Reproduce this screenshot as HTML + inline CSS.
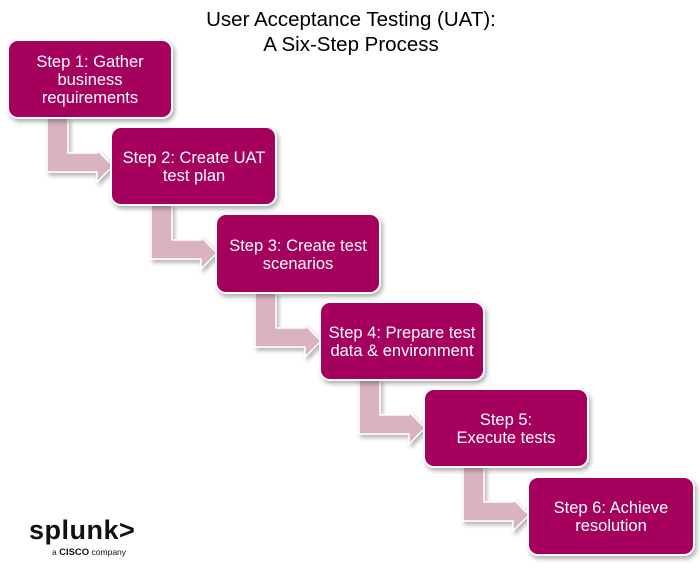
<!DOCTYPE html>
<html><head><style>body{margin:0;background:#fff}svg{display:block}</style></head><body>
<svg width="700" height="571" viewBox="0 0 700 571" xmlns="http://www.w3.org/2000/svg" font-family="Liberation Sans, Arial, sans-serif">
<defs>
<filter id="sh" x="-10%" y="-10%" width="130%" height="130%"><feDropShadow dx="2" dy="3" stdDeviation="2" flood-color="#000" flood-opacity="0.3"/></filter>
</defs>
<text x="351" y="26" font-size="20.5" text-anchor="middle" fill="#000">User Acceptance Testing (UAT):</text>
<text x="351" y="51" font-size="20.5" text-anchor="middle" fill="#000">A Six-Step Process</text>
<g fill="#d9b3c1" stroke="#fff" stroke-width="1.5" filter="url(#sh)">
<path d="M47 118 V172 H97 V182 L113 166 L97 150 V153 H68 V118 Z"/>
<path d="M151 205 V259 H201 V269 L217 253 L201 237 V240 H172 V205 Z"/>
<path d="M255 293 V347 H305 V357 L321 341 L305 325 V328 H276 V293 Z"/>
<path d="M359 380 V434 H409 V444 L425 428 L409 412 V415 H380 V380 Z"/>
<path d="M463 467 V521 H513 V531 L529 515 L513 499 V502 H484 V467 Z"/>
</g>
<g fill="#a6005f" stroke="#fff" stroke-width="2" filter="url(#sh)">
<rect x="8" y="40" width="164" height="78" rx="10"/>
<rect x="111" y="127" width="165" height="78" rx="10"/>
<rect x="216" y="214" width="164" height="79" rx="10"/>
<rect x="320" y="302" width="164" height="78" rx="10"/>
<rect x="424" y="389" width="164" height="78" rx="10"/>
<rect x="528" y="477" width="166" height="78" rx="10"/>
</g>
<g fill="#fff" font-size="16.5" text-anchor="middle">
<text x="90" y="67">Step 1: Gather</text>
<text x="90" y="85">business</text>
<text x="90" y="103">requirements</text>
<text x="194" y="163">Step 2: Create UAT</text>
<text x="194" y="181">test plan</text>
<text x="298" y="251">Step 3: Create test</text>
<text x="298" y="269">scenarios</text>
<text x="402" y="338">Step 4: Prepare test</text>
<text x="402" y="356">data &amp; environment</text>
<text x="506" y="425">Step 5:</text>
<text x="506" y="443">Execute tests</text>
<text x="611" y="513">Step 6: Achieve</text>
<text x="611" y="531">resolution</text>
</g>
<text x="29" y="539" font-size="27" fill="#111" font-weight="bold" letter-spacing="0.5">splunk&gt;</text>
<text x="52" y="555" font-size="8.5" fill="#111">a <tspan font-weight="bold" font-size="9.5">CISCO</tspan> company</text>
</svg>
</body></html>
